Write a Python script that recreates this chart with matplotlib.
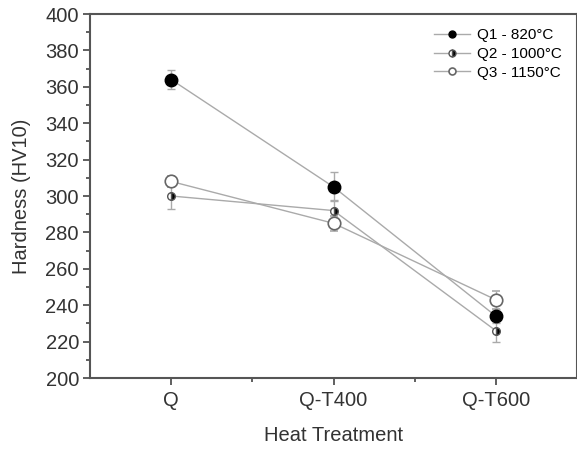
import numpy as np
import matplotlib.pyplot as plt
from matplotlib.lines import Line2D

plt.rcParams['font.family'] = ['Liberation Sans', 'DejaVu Sans']

# data
treatments = ["Q", "Q-T400", "Q-T600"]
labels = ["Q1 - 820°C", "Q2 - 1000°C", "Q3 - 1150°C"]
q1 = [364, 305, 234]
q1_err = [5, 8, 4]
q2 = [300, 292, 226]
q2_err = [7, 6, 6]
q3 = [308, 285, 243]
q3_err = [3, 4, 5]

x = np.arange(1, len(treatments) + 1)

fig = plt.figure(figsize=(5.77, 4.54), dpi=100)
ax = fig.add_axes([90 / 577, 76 / 454, 487 / 577, 364 / 454])

line_col = "#aaaaaa"
styles = [
    dict(ms=9, mfc="black", mec="black"),
    dict(ms=5.5, fillstyle="right", mfc="black", mfcalt="white", mec="#555555"),
    dict(ms=9, mfc="white", mec="#666666", mew=1.2),
]
legend_ms = [5, 5, 5]
series = [(q1, q1_err), (q2, q2_err), (q3, q3_err)]

handles = []
for (vals, err), st, lab, lms in zip(series, styles, labels, legend_ms):
    ax.errorbar(x, vals, yerr=err, color=line_col, ecolor=line_col, lw=1, capsize=3,
                marker="o", zorder=3, **st)
    hs = dict(st)
    hs["ms"] = lms
    handles.append(Line2D([], [], color=line_col, lw=1, marker="o", label=lab, **hs))

ax.set_xlim(0.5, 3.5)
ax.set_ylim(200, 400)
ax.set_xticks(x)
ax.set_xticklabels(treatments)
ax.set_xticks([1.5, 2.5], minor=True)
ax.set_yticks(np.arange(200, 401, 20))
ax.set_yticks(np.arange(210, 400, 20), minor=True)
ax.tick_params(axis="both", which="major", direction="out", length=5, width=1.2,
               labelsize=14.5, colors="#444444", labelcolor="#333333",
               top=False, right=False, pad=3)
ax.tick_params(axis="both", which="minor", direction="out", length=3, width=1.2,
               colors="#444444", top=False, right=False)
ax.tick_params(axis="x", which="major", pad=4)
for s in ax.spines.values():
    s.set_color("#555555")
    s.set_linewidth(1.5)

ax.set_xlabel("Heat Treatment", fontsize=14.5, color="#333333", labelpad=12)
ax.set_ylabel("Hardness (HV10)", fontsize=14.5, color="#333333", labelpad=10)

ax.legend(handles=handles, loc="upper right", frameon=False, fontsize=11,
          handlelength=2.4, borderaxespad=0.3, labelspacing=0.3, handletextpad=0.4,
          bbox_to_anchor=(0.99, 0.99))

fig.savefig("out.png", dpi=100)
